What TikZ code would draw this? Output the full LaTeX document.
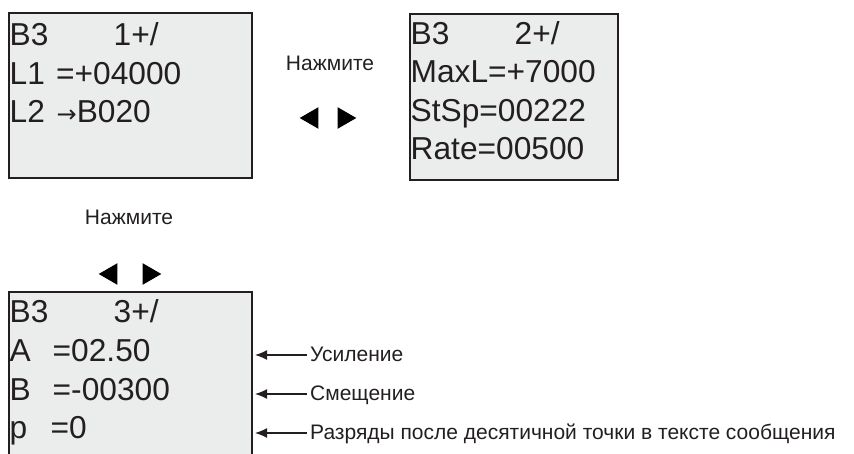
\documentclass[tikz,border=0pt]{standalone}
\usepackage{fontspec}
\setmainfont{Liberation Sans}
\newfontfamily\symfont{DejaVu Sans}
\usepackage{xcolor}
\usepackage{tikz}
\usetikzlibrary{shapes.geometric, arrows.meta}
\definecolor{lcdF}{RGB}{235,236,236}
\definecolor{lcdL}{RGB}{ 35, 31, 32}
\definecolor{inkA}{RGB}{ 35, 31, 32}

\begin{document}
\begin{tikzpicture}[
  x=1pt, y=-1pt,
  screen/.style={
    draw=lcdL, fill=lcdF, line width=1.3pt, inner sep=0pt
  },
  row/.style={
    anchor=base west, inner sep=0pt, text=inkA,
    font=\fontsize{31.7}{38}\selectfont
  },
  note/.style={
    inner sep=0pt, text=inkA, font=\fontsize{21}{26}\selectfont,
    text height=12pt, text depth=0pt
  },
  key/.style={
    regular polygon, regular polygon sides=3, fill=black,
    minimum size=25pt, inner sep=0pt
  },
  pointer/.style={
    -{Latex[length=12pt, width=10pt]}, line width=1.2pt, draw=inkA,
    shorten <=3pt, shorten >=2.4pt
  }
]
\useasboundingbox (0,0) rectangle (854,454);

\node[screen, minimum width=243pt, minimum height=165pt] (scrA) at (130.5,95.5) {};
\node[screen, minimum width=208pt, minimum height=166pt] (scrB) at (514,97) {};
\node[screen, minimum width=243pt, minimum height=178pt] (scrC) at (130.5,381) {};

\node[row] (a1) at (9.5,46)  {\makebox[104pt][l]{B3}1+/};
\node[row] (a2) at (9.5,85)  {\makebox[46.5pt][l]{L1}=+04000};
\node[row] (a3) at (9.5,123) {\makebox[47pt][l]{L2}{\symfont\fontsize{24}{24}\selectfont →}B020};

\node[row] (b1) at (410.5,45)  {\makebox[104pt][l]{B3}2+/};
\node[row] (b2) at (410.5,83)  {MaxL=+7000};
\node[row] (b3) at (410.5,122) {StSp=00222};
\node[row] (b4) at (410.5,160) {Rate=00500};

\node[row] (c1) at (9.5,323) {\makebox[104pt][l]{B3}3+/};
\node[row] (c2) at (9.5,361) {\makebox[43pt][l]{A}=02.50};
\node[row] (c3) at (9.5,400) {\makebox[43pt][l]{B}=-00300};
\node[row] (c4) at (9.5,438) {\makebox[41pt][l]{p}=0};

\node[note, anchor=center] (pressT) at (330,65)  {Нажмите};
\node[key, rotate=90]  (leftT)  at (312.2,118) {};
\node[key, rotate=-90] (rightT) at (343.8,118) {};

\node[note, anchor=center] (pressB) at (129,219) {Нажмите};
\node[key, rotate=90]  (leftB)  at (111.2,274) {};
\node[key, rotate=-90] (rightB) at (148.8,274) {};

\node[note, anchor=west] (gain)   at (310,355) {Усиление};
\node[note, anchor=west] (offset) at (310,394) {Смещение};
\node[note, anchor=west] (digits) at (310,433) {Разряды после десятичной точки в тексте сообщения};

\draw[pointer] (gain.west)   -- (gain.west -| scrC.east);
\draw[pointer] (offset.west) -- (offset.west -| scrC.east);
\draw[pointer] (digits.west) -- (digits.west -| scrC.east);
\end{tikzpicture}
\end{document}
